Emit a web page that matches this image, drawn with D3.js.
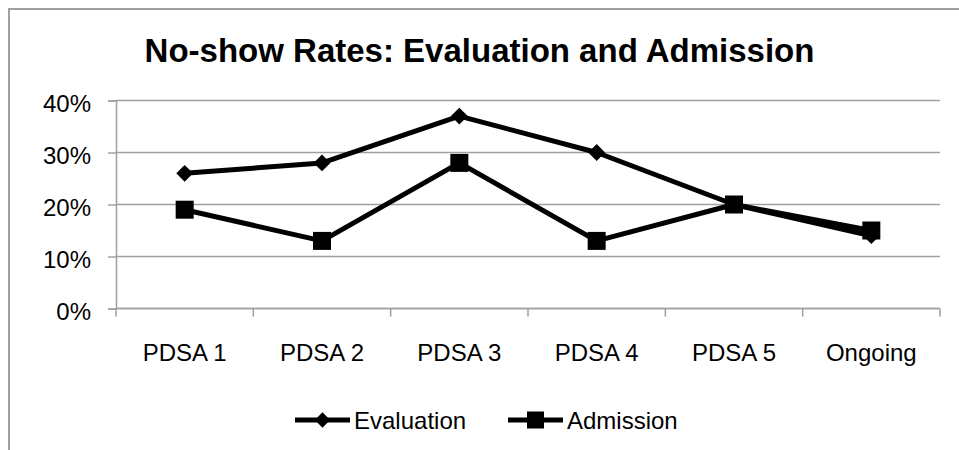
<!DOCTYPE html>
<html>
<head>
<meta charset="utf-8">
<script src="https://cdn.jsdelivr.net/npm/d3@7"></script>
<style>
  html, body { margin: 0; padding: 0; background: #fff; }
  svg { display: block; font-family: "Liberation Sans", Arial, sans-serif; }
</style>
</head>
<body>
<svg id="chart" width="959" height="450"></svg>
<script>
// Chart data
const categories = ["PDSA 1", "PDSA 2", "PDSA 3", "PDSA 4", "PDSA 5", "Ongoing"];
const evaluation = [0.26, 0.28, 0.37, 0.30, 0.20, 0.14];
const admission  = [0.19, 0.13, 0.28, 0.13, 0.20, 0.15];
const yTicks = [0, 0.1, 0.2, 0.3, 0.4];
const seriesNames = ["Evaluation", "Admission"];
const titleText = "No-show Rates: Evaluation and Admission";

const svg = d3.select("#chart");
const W = 959, H = 450;
const plot = { left: 116, right: 940, top: 100.5, bottom: 308.5 };
const gridColor = "#a0a0a0";

// Outer chart frame (runs off the right and bottom of the view)
svg.append("path")
  .attr("d", `M9,${H + 5} L9,9 L${W + 5},9`)
  .attr("fill", "none")
  .attr("stroke", "#a0a0a0")
  .attr("stroke-width", 2);

// Title
svg.append("text")
  .attr("x", W / 2)
  .attr("y", 62)
  .attr("text-anchor", "middle")
  .attr("font-weight", "bold")
  .attr("font-size", 33)
  .attr("fill", "#000")
  .text(titleText);

// Scales
const x = d3.scaleBand().domain(categories).range([plot.left, plot.right]);
const y = d3.scaleLinear().domain([0, 0.4]).range([plot.bottom, plot.top]);

// Horizontal gridlines
svg.append("g")
  .selectAll("line")
  .data(yTicks)
  .join("line")
  .attr("x1", plot.left)
  .attr("x2", plot.right)
  .attr("y1", d => y(d))
  .attr("y2", d => y(d))
  .attr("stroke", gridColor)
  .attr("stroke-width", 1.5);

// Y axis
const yAxis = svg.append("g")
  .attr("transform", `translate(${plot.left},0)`)
  .call(d3.axisLeft(y).tickValues(yTicks).tickFormat(d3.format(".0%")).tickSize(8).tickPadding(17));
yAxis.select(".domain").attr("stroke", gridColor).attr("stroke-width", 1.5);
yAxis.selectAll(".tick line").attr("stroke", gridColor).attr("stroke-width", 1.5);
yAxis.selectAll(".tick text")
  .attr("font-size", 24)
  .attr("font-family", "Liberation Sans, Arial, sans-serif")
  .attr("fill", "#000")
  .attr("dy", "0.47em");

// X axis: ticks sit on the category boundaries
const boundaries = d3.range(categories.length + 1).map(i => plot.left + i * x.bandwidth());
const xAxisG = svg.append("g");
xAxisG.append("line")
  .attr("x1", plot.left).attr("x2", plot.right)
  .attr("y1", plot.bottom).attr("y2", plot.bottom)
  .attr("stroke", gridColor).attr("stroke-width", 1.5);
xAxisG.selectAll("line.tick")
  .data(boundaries)
  .join("line")
  .attr("class", "tick")
  .attr("x1", d => d).attr("x2", d => d)
  .attr("y1", plot.bottom).attr("y2", plot.bottom + 8)
  .attr("stroke", gridColor).attr("stroke-width", 1.5);
xAxisG.selectAll("text")
  .data(categories)
  .join("text")
  .attr("x", d => x(d) + x.bandwidth() / 2)
  .attr("y", 361)
  .attr("text-anchor", "middle")
  .attr("font-size", 24)
  .attr("fill", "#000")
  .text(d => d);

// Series lines and markers
const line = d3.line()
  .x((d, i) => x(categories[i]) + x.bandwidth() / 2)
  .y(d => y(d));

const diamond = d3.symbol().type(d3.symbolDiamond2).size(180);
const square = d3.symbol().type(d3.symbolSquare).size(324);

function drawSeries(values, symbol) {
  const g = svg.append("g");
  g.append("path")
    .datum(values)
    .attr("d", line)
    .attr("fill", "none")
    .attr("stroke", "#000")
    .attr("stroke-width", 5)
    .attr("stroke-linejoin", "round");
  g.selectAll("path.m")
    .data(values)
    .join("path")
    .attr("class", "m")
    .attr("transform", (d, i) => `translate(${x(categories[i]) + x.bandwidth() / 2},${y(d)})`)
    .attr("d", symbol)
    .attr("fill", "#000");
}

drawSeries(evaluation, diamond);
drawSeries(admission, square);

// Legend
const legend = svg.append("g");
const legendItems = [
  { name: seriesNames[0], x0: 295, sym: d3.symbol().type(d3.symbolDiamond2).size(150) },
  { name: seriesNames[1], x0: 508, sym: d3.symbol().type(d3.symbolSquare).size(289) }
];
const ly = 420;
legendItems.forEach(it => {
  legend.append("line")
    .attr("x1", it.x0).attr("x2", it.x0 + 55)
    .attr("y1", ly).attr("y2", ly)
    .attr("stroke", "#000").attr("stroke-width", 5);
  legend.append("path")
    .attr("transform", `translate(${it.x0 + 27.5},${ly})`)
    .attr("d", it.sym)
    .attr("fill", "#000");
  legend.append("text")
    .attr("x", it.x0 + 59)
    .attr("y", ly + 9)
    .attr("font-size", 24)
    .attr("fill", "#000")
    .text(it.name);
});
</script>
</body>
</html>
